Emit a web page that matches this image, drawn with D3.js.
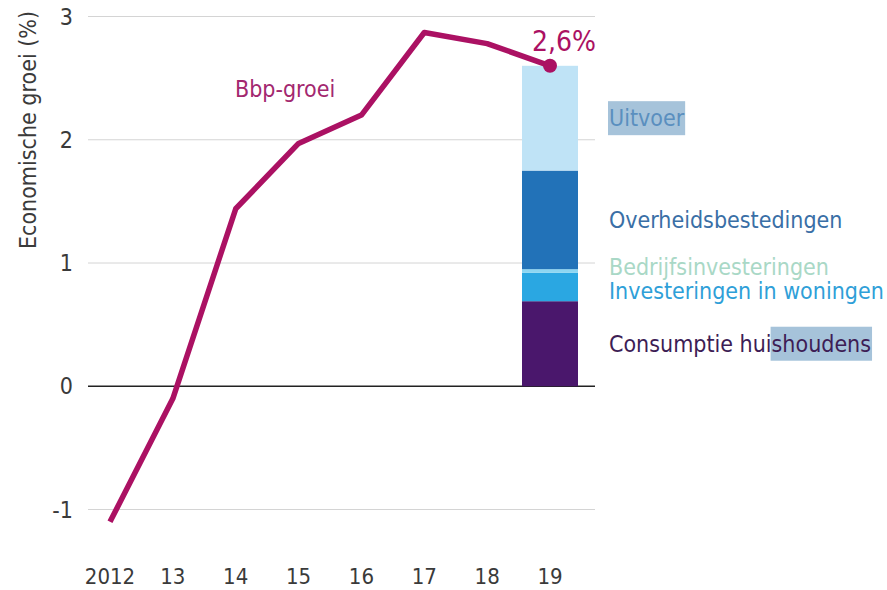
<!DOCTYPE html>
<html>
<head>
<meta charset="utf-8">
<script src="https://cdn.jsdelivr.net/npm/d3@7"></script>
<style>
  body { margin: 0; background: #fff; }
  svg { display: block; font-family: "DejaVu Sans Condensed", "Liberation Sans Narrow", sans-serif; }
</style>
</head>
<body>
<svg width="887" height="590"></svg>
<script>
// Data
var years = ["2012", "13", "14", "15", "16", "17", "18", "19"];
var growth = [-1.1, -0.1, 1.44, 1.97, 2.2, 2.87, 2.78, 2.6];
var yTicks = [-1, 0, 1, 2, 3];
var components = ["Consumptie huishoudens", "Investeringen in woningen", "Bedrijfsinvesteringen", "Overheidsbestedingen", "Uitvoer"];
var contributions = [0.69, 0.23, 0.03, 0.8, 0.85];
var barColors = ["#4a176c", "#2aa7e2", "#8dd6f2", "#2272b8", "#bfe3f6"];
var labelColors = ["#3d1d55", "#2f9fd8", "#a9d8c6", "#3a6fa6", "#5a8fbf"];

var svg = d3.select("svg");

var x = d3.scalePoint().domain(years).range([110, 550]);
var y = d3.scaleLinear().domain([-1, 3]).range([509.5, 16.5]);

// gridlines
svg.append("g")
  .selectAll("line")
  .data(yTicks)
  .enter()
  .append("line")
  .attr("x1", 88)
  .attr("x2", 595)
  .attr("y1", function (d) { return y(d); })
  .attr("y2", function (d) { return y(d); })
  .attr("stroke", function (d) { return d === 0 ? "#222" : "#d4d4d4"; })
  .attr("stroke-width", function (d) { return d === 0 ? 1.3 : 1; });

// y tick labels
svg.append("g")
  .selectAll("text")
  .data(yTicks)
  .enter()
  .append("text")
  .attr("x", 73)
  .attr("y", function (d) { return y(d) + 8; })
  .attr("text-anchor", "end")
  .attr("font-size", 23)
  .attr("fill", "#3a3a3a")
  .text(function (d) { return d; });

// y axis title
svg.append("text")
  .attr("transform", "translate(36,130) rotate(-90)")
  .attr("text-anchor", "middle")
  .attr("font-size", 23)
  .attr("fill", "#3a3a3a")
  .text("Economische groei (%)");

// x tick labels
svg.append("g")
  .selectAll("text")
  .data(years)
  .enter()
  .append("text")
  .attr("x", function (d) { return x(d); })
  .attr("y", 584)
  .attr("text-anchor", "middle")
  .attr("font-size", 22)
  .attr("fill", "#3a3a3a")
  .text(function (d) { return d; });

// stacked bar for 2019
var tops = d3.cumsum(contributions);
var stack = contributions.map(function (v, i) {
  return { name: components[i], y0: tops[i] - v, y1: tops[i], color: barColors[i], label: labelColors[i] };
});
var bw = 56;
svg.append("g")
  .selectAll("rect")
  .data(stack)
  .enter()
  .append("rect")
  .attr("x", x("19") - bw / 2)
  .attr("width", bw)
  .attr("y", function (d) { return y(d.y1); })
  .attr("height", function (d) { return y(d.y0) - y(d.y1); })
  .attr("fill", function (d) { return d.color; });

// legend labels next to the bar, nudged apart where they collide
stack.forEach(function (d) { d.ly = (y(d.y0) + y(d.y1)) / 2; });
for (var k = 0; k < 10; k++) {
  for (var i = 1; i < stack.length; i++) {
    var gap = stack[i - 1].ly - stack[i].ly;
    if (gap < 24) {
      var push = (24 - gap) / 2;
      stack[i - 1].ly += push;
      stack[i].ly -= push;
    }
  }
}
var labels = svg.append("g")
  .selectAll("text")
  .data(stack)
  .enter()
  .append("text")
  .attr("x", 609)
  .attr("y", function (d) { return d.ly + 8; })
  .attr("font-size", 23)
  .attr("fill", function (d) { return d.label; })
  .text(function (d) { return d.name; });

// selection highlights as they appear in the source picture
labels.each(function (d) {
  var node = this;
  var start = 0;
  if (d.name === "Consumptie huishoudens") start = node.getSubStringLength(0, 14);
  else if (d.name !== "Uitvoer") return;
  var w = node.getComputedTextLength();
  d3.select(node.parentNode).insert("rect", "text")
    .attr("x", 609 + start - 1)
    .attr("y", d.ly - 17)
    .attr("width", w - start + 2)
    .attr("height", 34)
    .attr("fill", "#a6c3da");
});

// GDP growth line
var line = d3.line()
  .x(function (d, i) { return x(years[i]); })
  .y(function (d) { return y(d); });

svg.append("path")
  .datum(growth)
  .attr("d", line)
  .attr("fill", "none")
  .attr("stroke", "#ab1163")
  .attr("stroke-width", 5.5)
  .attr("stroke-linejoin", "round");

var last = growth.length - 1;
svg.append("circle")
  .attr("cx", x(years[last]))
  .attr("cy", y(growth[last]))
  .attr("r", 7)
  .attr("fill", "#ab1163");

svg.append("text")
  .attr("x", x(years[last]) + 14)
  .attr("y", 51)
  .attr("text-anchor", "middle")
  .attr("font-size", 28)
  .attr("fill", "#ab1163")
  .text(d3.format(".1f")(growth[last]).replace(".", ",") + "%");

svg.append("text")
  .attr("x", 235)
  .attr("y", 97)
  .attr("font-size", 23)
  .attr("fill", "#a3286f")
  .text("Bbp-groei");
</script>
</body>
</html>
